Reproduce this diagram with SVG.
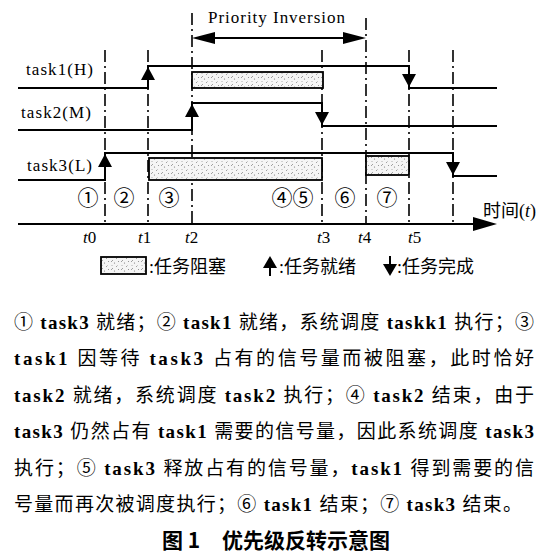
<svg xmlns="http://www.w3.org/2000/svg" xmlns:xlink="http://www.w3.org/1999/xlink" width="549" height="557" viewBox="0 0 549 557">
<style>
.w{fill:none;stroke:#000;stroke-width:2}
.dd{fill:none;stroke:#000;stroke-width:1.6;stroke-dasharray:12 4 2 4}
.blk{fill:url(#hatch);stroke:#000;stroke-width:1.8}
.ah{fill:#000}
.lab{font-family:"Liberation Serif","Times New Roman",serif;font-size:17px;fill:#000}
.tl{font-family:"Liberation Serif","Times New Roman",serif;font-size:17px;fill:#000}
.cn{font-family:"Noto Sans CJK SC","DejaVu Sans",sans-serif;font-size:21px;fill:#000;text-anchor:middle}
.lg{font-family:"Liberation Serif","Noto Sans CJK SC",sans-serif;font-size:18px;fill:#000}
.p{font-family:"Liberation Serif","Noto Sans CJK SC",serif;font-size:19px;fill:#000}
.b{font-weight:bold}
.cap{font-family:"Noto Sans CJK SC",sans-serif;font-size:21px;font-weight:bold;fill:#000}
</style>
<defs>
<pattern id="hatch" width="10" height="8" patternUnits="userSpaceOnUse">
<rect width="10" height="8" fill="#f5f5f5"/>
<path d="M1,6 l2,-2 M6,3 l1.5,-1.5" stroke="#8a8a8a" stroke-width="0.8"/>
<circle cx="4.5" cy="7" r="0.6" fill="#777"/>
<circle cx="8.5" cy="5.5" r="0.5" fill="#777"/>
<circle cx="2" cy="1.5" r="0.5" fill="#999"/>
</pattern>
<path id="up" d="M0,0 L-7,13 L7,13 Z"/>
<path id="dn" d="M0,0 L-7,-13 L7,-13 Z"/>
<path id="upS" d="M0,0 L-7,12 L7,12 Z"/>
<path id="dnS" d="M0,0 L-7,-12 L7,-12 Z"/>
</defs>
<rect width="549" height="557" fill="#fff"/>

<g id="time-markers">
<line class="dd" x1="105" y1="50" x2="105" y2="224"/>
<line class="dd" x1="148" y1="50" x2="148" y2="224"/>
<line class="dd" x1="192" y1="13" x2="192" y2="224"/>
<line class="dd" x1="322" y1="50" x2="322" y2="224"/>
<line class="dd" x1="366" y1="18" x2="366" y2="224"/>
<line class="dd" x1="409" y1="50" x2="409" y2="224"/>
<line class="dd" x1="453" y1="50" x2="453" y2="224"/>
</g>

<g id="priority-inversion">
<text class="lab" x="208" y="23" font-size="18" textLength="137">Priority Inversion</text>
<line class="w" x1="200" y1="38" x2="358" y2="38"/>
<polygon class="ah" points="192,38 215,32 215,44"/>
<polygon class="ah" points="366,38 343,32 343,44"/>
</g>

<g id="task1">
<text class="lab" x="26" y="75" textLength="67">task1(H)</text>
<rect class="blk" x="192" y="72" width="131" height="16"/>
<path class="w" d="M18,88 H148 V66 H409 V88 H497"/>
<use href="#up" class="ah" x="148" y="67"/>
<use href="#dn" class="ah" x="409" y="87"/>
</g>

<g id="task2">
<text class="lab" x="21" y="118" textLength="70">task2(M)</text>
<path class="w" d="M18,130 H192 V103 H322 V126 H497"/>
<use href="#up" class="ah" x="192" y="104"/>
<use href="#dn" class="ah" x="322" y="125"/>
</g>

<g id="task3">
<text class="lab" x="27" y="171" textLength="65">task3(L)</text>
<rect class="blk" x="149" y="158" width="173" height="22"/>
<rect class="blk" x="366" y="156" width="43" height="19"/>
<path class="w" d="M18,180 H105 V153 H453 V176 H497"/>
<use href="#up" class="ah" x="105" y="154"/>
<use href="#dn" class="ah" x="453" y="175"/>
</g>

<g id="phases">
<text class="cn" x="88" y="205">①</text>
<text class="cn" x="124" y="205">②</text>
<text class="cn" x="169" y="205">③</text>
<text class="cn" x="282" y="205">④</text>
<text class="cn" x="303" y="205">⑤</text>
<text class="cn" x="345" y="205">⑥</text>
<text class="cn" x="387" y="205">⑦</text>
</g>

<g id="time-axis">
<path class="w" d="M18,224 H480"/>
<polygon class="ah" points="473,217 497,224 473,231"/>
<text class="lg" x="483" y="217" font-size="17"><tspan>时间(</tspan><tspan font-style="italic">t</tspan><tspan>)</tspan></text>
<text class="tl" x="83" y="243"><tspan font-style="italic">t</tspan>0</text>
<text class="tl" x="138" y="243"><tspan font-style="italic">t</tspan>1</text>
<text class="tl" x="185" y="243"><tspan font-style="italic">t</tspan>2</text>
<text class="tl" x="317" y="243"><tspan font-style="italic">t</tspan>3</text>
<text class="tl" x="358" y="243"><tspan font-style="italic">t</tspan>4</text>
<text class="tl" x="408" y="243"><tspan font-style="italic">t</tspan>5</text>
</g>

<g id="legend">
<rect class="blk" x="101" y="257" width="45" height="17"/>
<text class="lg" x="149" y="273">:任务阻塞</text>
<line x1="270" y1="262" x2="270" y2="276" stroke="#000" stroke-width="2"/>
<use href="#upS" class="ah" x="270" y="256"/>
<text class="lg" x="279" y="273">:任务就绪</text>
<line x1="390" y1="256" x2="390" y2="270" stroke="#000" stroke-width="2"/>
<use href="#dnS" class="ah" x="390" y="276"/>
<text class="lg" x="397" y="273">:任务完成</text>
</g>

<g id="description">
<text class="p" x="14" y="329" textLength="520" lengthAdjust="spacing">① <tspan class="b">task3</tspan> 就绪；② <tspan class="b">task1</tspan> 就绪，系统调度 <tspan class="b">taskk1</tspan> 执行；③</text>
<text class="p" x="14" y="365" textLength="520" lengthAdjust="spacing"><tspan class="b">task1</tspan> 因等待 <tspan class="b">task3</tspan> 占有的信号量而被阻塞，此时恰好</text>
<text class="p" x="14" y="402" textLength="520" lengthAdjust="spacing"><tspan class="b">task2</tspan> 就绪，系统调度 <tspan class="b">task2</tspan> 执行；④ <tspan class="b">task2</tspan> 结束，由于</text>
<text class="p" x="14" y="438" textLength="520" lengthAdjust="spacing"><tspan class="b">task3</tspan> 仍然占有 <tspan class="b">task1</tspan> 需要的信号量，因此系统调度 <tspan class="b">task3</tspan></text>
<text class="p" x="14" y="475" textLength="520" lengthAdjust="spacing">执行；⑤ <tspan class="b">task3</tspan> 释放占有的信号量，<tspan class="b">task1</tspan> 得到需要的信</text>
<text class="p" x="14" y="511" textLength="508" lengthAdjust="spacing">号量而再次被调度执行；⑥ <tspan class="b">task1</tspan> 结束；⑦ <tspan class="b">task3</tspan> 结束。</text>
</g>

<g id="caption">
<text class="cap" y="548"><tspan x="162">图 1</tspan><tspan x="222">优先级反转示意图</tspan></text>
</g>
</svg>
